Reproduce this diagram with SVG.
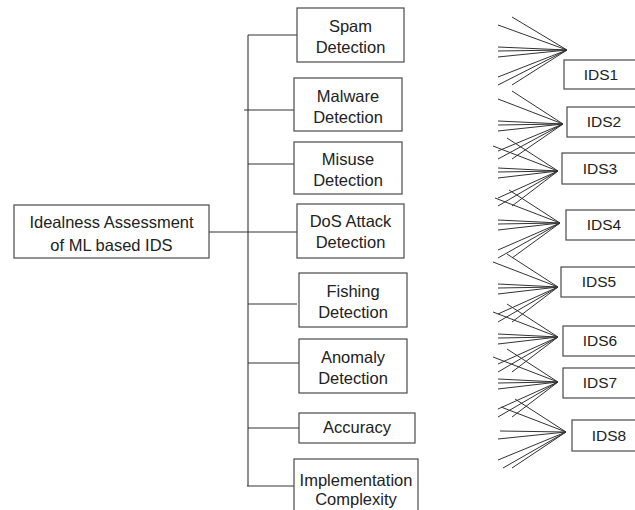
<svg xmlns="http://www.w3.org/2000/svg" width="635" height="510" viewBox="0 0 635 510">
<style>
.box{fill:#fff;stroke:#4a4a4a;stroke-width:1.2}
.t{font-family:"Liberation Sans",Arial,sans-serif;font-size:16.5px;fill:#222;text-anchor:middle}
.s{font-family:"Liberation Sans",Arial,sans-serif;font-size:15.5px;fill:#222;text-anchor:middle}
.ln{stroke:#333;stroke-width:1.1;fill:none}
.fan{stroke:#333;stroke-width:1;fill:none}
</style>
<rect width="635" height="510" fill="#fff"/>
<g id="connectors">
<path class="ln" d="M248,35 V486"/>
<path class="ln" d="M248,35 H297"/>
<path class="ln" d="M244,110 H294"/>
<path class="ln" d="M248,164 H294"/>
<path class="ln" d="M209,232 H297"/>
<path class="ln" d="M248,304 H297"/>
<path class="ln" d="M248,363 H299"/>
<path class="ln" d="M248,428 H299"/>
<path class="ln" d="M247,486 H294"/>
<g id="fan1" class="fan"><path d="M567,50 L512,17 M567,50 L498,25 M567,50 L498,47 M567,50 L498,51 M567,50 L498,57 M567,50 L498,77 M567,50 L498,85 M567,50 L512,85"/></g>
<g id="fan2" class="fan"><path d="M563,124 L512,91 M563,124 L498,99 M563,124 L498,121 M563,124 L498,125 M563,124 L498,131 M563,124 L498,151 M563,124 L498,159 M563,124 L512,159"/></g>
<g id="fan3" class="fan"><path d="M558,171 L507,138 M558,171 L493,146 M558,171 L498,168 M558,171 L498,172 M558,171 L498,178 M558,171 L498,198 M558,171 L498,206 M558,171 L512,206"/></g>
<g id="fan4" class="fan"><path d="M560,223 L509,190 M560,223 L495,198 M560,223 L498,220 M560,223 L498,224 M560,223 L498,230 M560,223 L498,250 M560,223 L498,258 M560,223 L512,258"/></g>
<g id="fan5" class="fan"><path d="M558,287 L507,254 M558,287 L493,262 M558,287 L498,284 M558,287 L498,288 M558,287 L498,294 M558,287 L498,314 M558,287 L498,322 M558,287 L512,322"/></g>
<g id="fan6" class="fan"><path d="M558,337 L507,304 M558,337 L493,312 M558,337 L498,334 M558,337 L498,338 M558,337 L498,344 M558,337 L498,364 M558,337 L498,372 M558,337 L512,372"/></g>
<g id="fan7" class="fan"><path d="M558,382 L507,349 M558,382 L493,357 M558,382 L498,379 M558,382 L498,383 M558,382 L498,389 M558,382 L498,409 M558,382 L498,417 M558,382 L512,417"/></g>
<g id="fan8" class="fan"><path d="M566,432 L515,399 M566,432 L501,407 M566,432 L500,431 M566,432 L498,439 M566,432 L498,460 M566,432 L503,468 M566,432 L512,468"/></g>
</g>
<g id="root"><rect class="box" x="14" y="205" width="195" height="53"/><text class="t" x="111.5" y="228">Idealness Assessment</text><text class="t" x="111.5" y="251">of ML based IDS</text></g>
<g id="spam"><rect class="box" x="297" y="8" width="107" height="54"/><text class="t" x="350.5" y="32">Spam</text><text class="t" x="350.5" y="53">Detection</text></g>
<g id="malware"><rect class="box" x="294" y="78" width="108" height="53"/><text class="t" x="348" y="102">Malware</text><text class="t" x="348" y="123">Detection</text></g>
<g id="misuse"><rect class="box" x="294" y="142" width="108" height="52"/><text class="t" x="348" y="165">Misuse</text><text class="t" x="348" y="186">Detection</text></g>
<g id="dos"><rect class="box" x="297" y="204" width="107" height="54"/><text class="t" x="350.5" y="227">DoS Attack</text><text class="t" x="350.5" y="248">Detection</text></g>
<g id="fishing"><rect class="box" x="299" y="273" width="108" height="54"/><text class="t" x="353" y="297">Fishing</text><text class="t" x="353" y="318">Detection</text></g>
<g id="anomaly"><rect class="box" x="299" y="339" width="108" height="54"/><text class="t" x="353" y="363">Anomaly</text><text class="t" x="353" y="384">Detection</text></g>
<g id="accuracy"><rect class="box" x="299" y="413" width="116" height="30"/><text class="t" x="357" y="433">Accuracy</text></g>
<g id="implementation"><rect class="box" x="294" y="459" width="124" height="56"/><text class="t" x="356" y="486">Implementation</text><text class="t" x="356" y="505">Complexity</text></g>
<g id="ids1"><rect class="box" x="564" y="60" width="80" height="29"/><text class="s" x="601" y="80">IDS1</text></g>
<g id="ids2"><rect class="box" x="567" y="107" width="80" height="30"/><text class="s" x="604" y="127">IDS2</text></g>
<g id="ids3"><rect class="box" x="562" y="153" width="80" height="31"/><text class="s" x="600" y="174">IDS3</text></g>
<g id="ids4"><rect class="box" x="566" y="210" width="80" height="30"/><text class="s" x="604" y="230">IDS4</text></g>
<g id="ids5"><rect class="box" x="561" y="267" width="80" height="30"/><text class="s" x="599" y="287">IDS5</text></g>
<g id="ids6"><rect class="box" x="563" y="326" width="80" height="30"/><text class="s" x="600" y="346">IDS6</text></g>
<g id="ids7"><rect class="box" x="563" y="368" width="80" height="30"/><text class="s" x="600" y="388">IDS7</text></g>
<g id="ids8"><rect class="box" x="572" y="420" width="80" height="31"/><text class="s" x="609" y="441">IDS8</text></g>
</svg>
